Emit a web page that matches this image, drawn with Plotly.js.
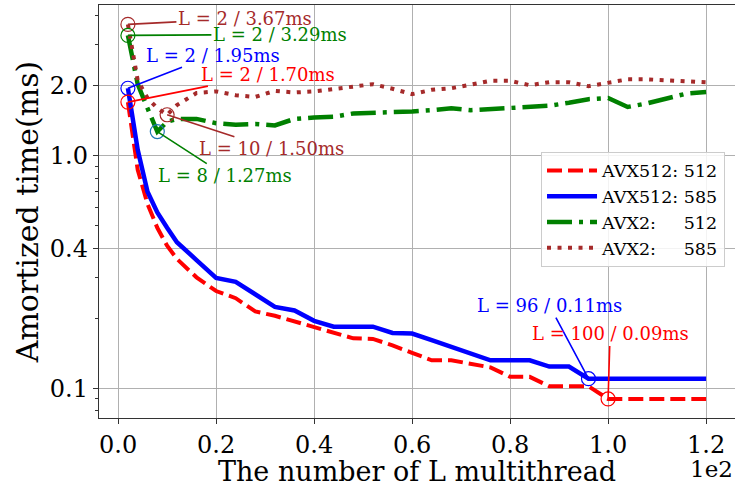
<!DOCTYPE html>
<html>
<head>
<meta charset="utf-8">
<script src="https://cdn.plot.ly/plotly-3.0.1.min.js"></script>
<style>html,body{margin:0;padding:0;background:#fff;}#chart{width:735px;height:487px;}</style>
</head>
<body>
<div id="chart"></div>
<script>
// ---- data ----
const L = [2, 4, 6, 8, 10, 12, 16, 20, 24, 28, 32, 36, 40, 44, 48, 52, 56, 60, 64, 68, 72, 76, 80, 84, 88, 92, 96, 100, 104, 108, 112, 116, 120];
const avx512_512 = [1.70, 0.87, 0.62, 0.49, 0.41, 0.36, 0.30, 0.262, 0.244, 0.214, 0.205, 0.194, 0.184, 0.175, 0.164, 0.163, 0.153, 0.142, 0.132, 0.132, 0.127, 0.123, 0.112, 0.112, 0.102, 0.102, 0.102, 0.09, 0.09, 0.09, 0.09, 0.09, 0.09];
const avx512_585 = [1.95, 1.06, 0.70, 0.57, 0.49, 0.425, 0.356, 0.298, 0.287, 0.254, 0.224, 0.216, 0.195, 0.184, 0.184, 0.184, 0.173, 0.172, 0.161, 0.151, 0.141, 0.132, 0.132, 0.132, 0.124, 0.124, 0.11, 0.11, 0.11, 0.11, 0.11, 0.11, 0.11];
const avx2_512 = [3.29, 2.03, 1.60, 1.27, 1.40, 1.44, 1.44, 1.38, 1.36, 1.37, 1.35, 1.44, 1.46, 1.47, 1.52, 1.53, 1.53, 1.55, 1.57, 1.60, 1.57, 1.59, 1.61, 1.63, 1.64, 1.69, 1.75, 1.77, 1.62, 1.68, 1.77, 1.85, 1.88];
const avx2_585 = [3.67, 2.11, 1.77, 1.60, 1.50, 1.65, 1.86, 1.89, 1.82, 1.79, 1.90, 1.87, 1.89, 1.93, 1.98, 2.03, 1.94, 1.84, 1.92, 1.95, 2.02, 2.10, 2.10, 2.01, 2.07, 2.07, 1.99, 2.05, 2.13, 2.13, 2.12, 2.09, 2.07];
const seriesNames = ['AVX512: 512', 'AVX512: 585', 'AVX2:\u00a0\u00a0\u00a0\u00a0\u00a0512', 'AVX2:\u00a0\u00a0\u00a0\u00a0\u00a0585'];

const xTickVals = [0, 20, 40, 60, 80, 100, 120];
const xTickText = ['0.0', '0.2', '0.4', '0.6', '0.8', '1.0', '1.2'];
const yTickVals = [0.1, 0.4, 1.0, 2.0];
const yTickText = ['0.1', '0.4', '1.0', '2.0'];
const yMinorVals = [0.08, 0.09, 0.2, 0.3, 0.5, 0.6, 0.7, 0.8, 0.9, 3, 4];

// annotated points
const annL = [2, 2, 2, 2, 10, 8, 96, 100];
const annT = [3.67, 3.29, 1.95, 1.70, 1.50, 1.27, 0.11, 0.09];

// ---- styles ----
const FONT = 'DejaVu Serif';
const lineColors = ['#ff0000', '#0000ff', '#008000', '#a52a2a'];
const lineDash = ['15px,6px', 'solid', '25px,7px,4px,7px', '4px,6.5px'];
const lineWidth = [4, 4.5, 4.5, 4];
const annColors = ['#a52a2a', '#008000', '#0000ff', '#ff0000', '#a52a2a', '#008000', '#0000ff', '#ff0000'];
const annCircleColors = ['#a52a2a', '#008000', '#0000ff', '#ff0000', '#a52a2a', '#1f77b4', '#0000ff', '#ff0000'];
const annOffsets = [[117, -6], [152, -1], [85, -33], [140, -28], [104, 34], [68, 44], [-39, -73], [2, -65]];

const seriesData = [avx512_512, avx512_585, avx2_512, avx2_585];
const traces = seriesData.map((ys, i) => ({
  x: L, y: ys, type: 'scatter', mode: 'lines', name: seriesNames[i],
  line: {color: lineColors[i], width: lineWidth[i], dash: lineDash[i]}
}));
traces.push({
  x: annL, y: annT, type: 'scatter', mode: 'markers', showlegend: false, hoverinfo: 'skip',
  marker: {symbol: 'circle-open', size: 14, color: annCircleColors, line: {width: 1.2, color: annCircleColors}}
});

const annotations = annL.map((l, i) => ({
  x: l, y: Math.log10(annT[i]), xref: 'x', yref: 'y',
  text: 'L = ' + l + ' / ' + annT[i].toFixed(2) + 'ms',
  showarrow: true, arrowhead: 0, arrowwidth: 1.6, arrowcolor: annColors[i],
  ax: annOffsets[i][0], ay: annOffsets[i][1], standoff: 0, startstandoff: 0,
  font: {family: FONT, size: 18, color: annColors[i]}
}));
annotations.push({
  xref: 'paper', yref: 'paper', x: 1, y: -0.088, xanchor: 'right', yanchor: 'top',
  text: '1e2', showarrow: false, font: {family: FONT, size: 23, color: '#000'}
});

const layout = {
  width: 735, height: 487,
  margin: {l: 99, r: 0, t: 5, b: 69},
  paper_bgcolor: '#fff', plot_bgcolor: '#fff',
  font: {family: FONT, color: '#000'},
  showlegend: true,
  legend: {
    x: 0.695, y: 0.645, xanchor: 'left', yanchor: 'top',
    bgcolor: 'rgba(255,255,255,0.85)', bordercolor: '#cccccc', borderwidth: 1,
    font: {family: FONT, size: 17.5, color: '#000'}, tracegroupgap: 0, itemwidth: 50
  },
  xaxis: {
    range: [-3.9, 125.9], tickmode: 'array', tickvals: xTickVals, ticktext: xTickText,
    showgrid: true, gridcolor: '#b0b0b0', gridwidth: 1, zeroline: false,
    showline: true, linecolor: '#333', linewidth: 1.2, mirror: true,
    ticks: 'outside', ticklen: 5, tickcolor: '#333',
    tickfont: {family: FONT, size: 24, color: '#000'},
    title: {text: 'The number of L multithread', font: {family: FONT, size: 27, color: '#000'}, standoff: 10}
  },
  yaxis: {
    type: 'log', range: [-1.1277, 0.648], tickmode: 'array', tickvals: yTickVals, ticktext: yTickText,
    showgrid: true, gridcolor: '#b0b0b0', gridwidth: 1, zeroline: false,
    showline: true, linecolor: '#333', linewidth: 1.2, mirror: true,
    ticks: 'outside', ticklen: 5, tickcolor: '#333',
    minor: {tickmode: 'array', tickvals: yMinorVals, ticks: 'outside', ticklen: 3, tickcolor: '#333', showgrid: false},
    tickfont: {family: FONT, size: 24, color: '#000'},
    title: {text: 'Amortized time(ms)', font: {family: FONT, size: 30, color: '#000'}, standoff: 2}
  },
  annotations: annotations
};

Plotly.newPlot('chart', traces, layout, {displayModeBar: false, staticPlot: true});
</script>
</body>
</html>
